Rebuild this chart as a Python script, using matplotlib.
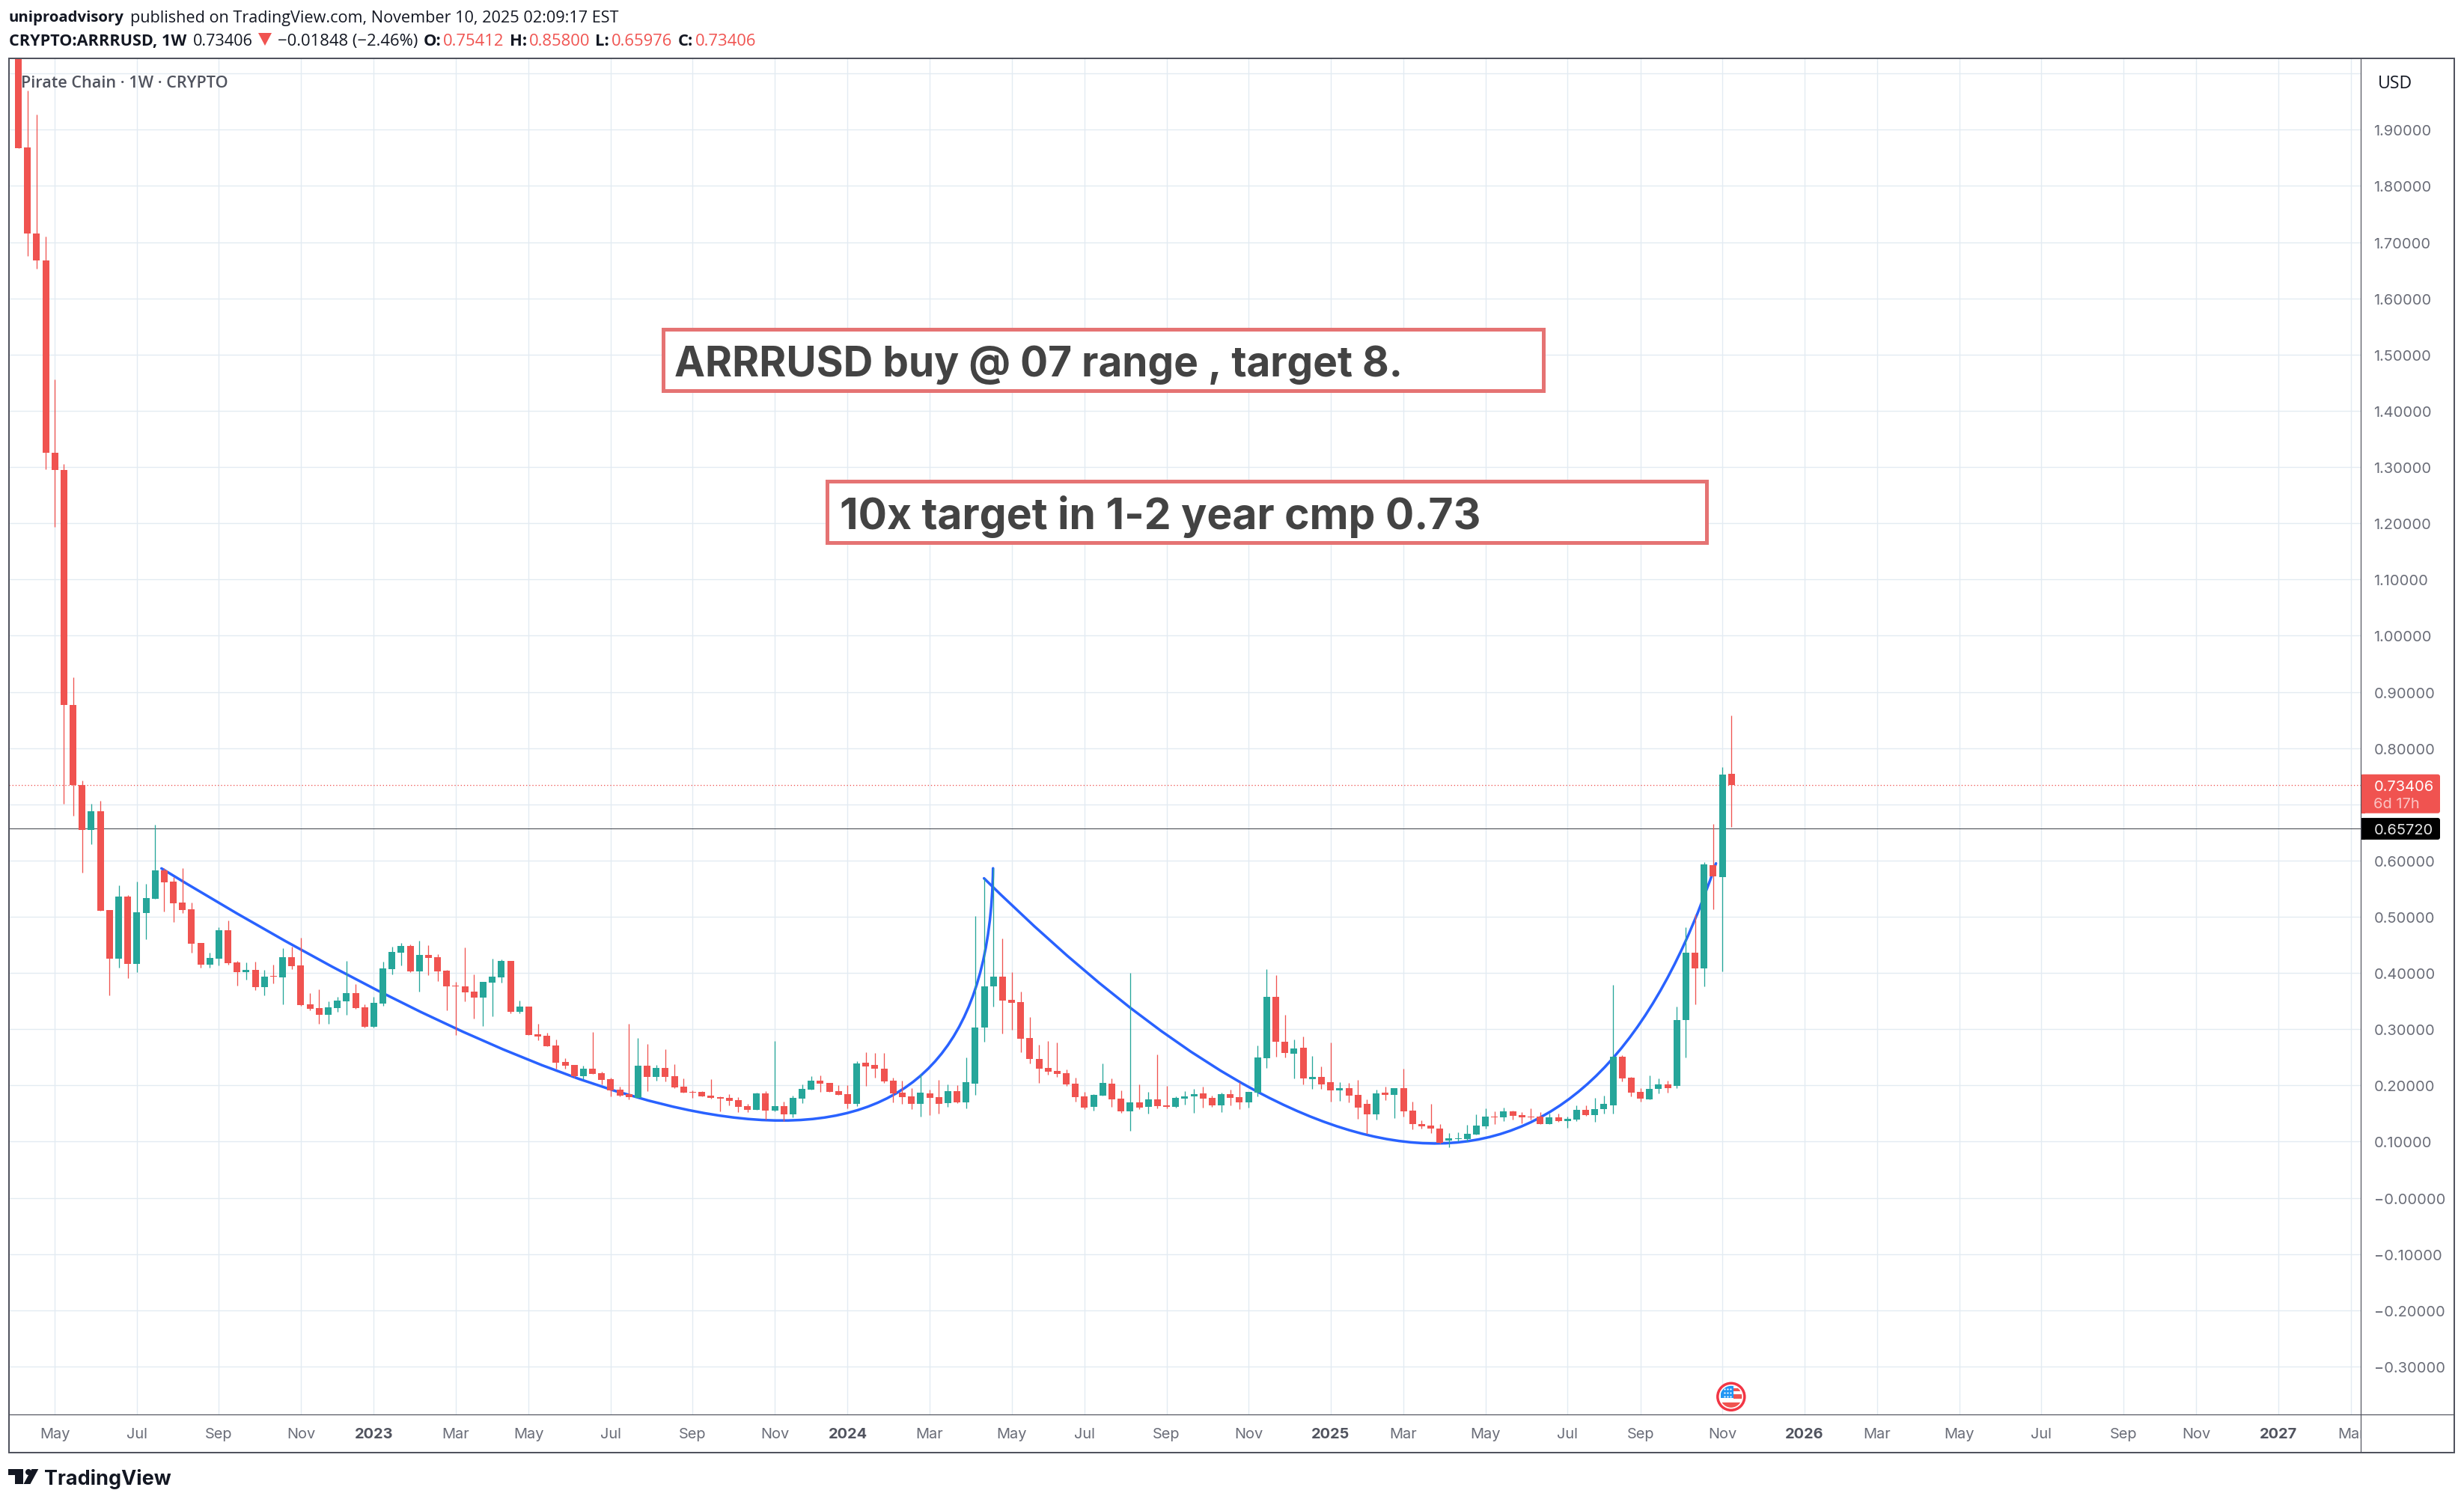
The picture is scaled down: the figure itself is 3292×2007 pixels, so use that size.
import matplotlib
matplotlib.use("Agg")
import matplotlib.pyplot as plt
from matplotlib.patches import Rectangle, Circle, Polygon, FancyBboxPatch, PathPatch
from matplotlib.path import Path

plt.rcParams["font.family"] = ["Inter", "DejaVu Sans"]

# week index 0 is the candle of May 2 2022
first_week = -4
opens = [2.2, 1.868, 1.715, 1.667, 1.326, 1.295, .877, .734, .655, .688,
         .5124, .4249, .5364, .4164, .5071, .5324, .5831, .5631, .5258, .5138,
         .4538, .4151, .4258, .4764, .4191, .4018, .4058, .3751, .3942, .3924,
         .4284, .4138, .3444, .3378, .3258, .3378, .3498, .3644, .3391, .3044,
         .3458, .4071, .4364, .4484, .4031, .4324, .4284, .4044, .3778, .3764,
         .3671, .3564, .3831, .3924, .4218, .3311, .3404, .2911, .2884, .2711,
         .2418, .2364, .2164, .2298, .2218, .2111, .1924, .1844, .1778, .2351,
         .2151, .2311, .2164, .1978, .1884, .1884, .1818, .1791, .1778, .1738,
         .1631, .1564, .1858, .1551, .1631, .1484, .1764, .1924, .2084, .2044,
         .1898, .1844, .1671, .2404, .2364, .2298, .2084, .1871, .1804, .1671,
         .1858, .1791, .1684, .1898, .1698, .2031, .3031, .3764, .3938, .3524,
         .3484, .2844, .2471, .2311, .2258, .2218, .2031, .1804, .1618, .1818,
         .2031, .1764, .1538, .1698, .1618, .1751, .1644, .1618, .1764, .1804,
         .1858, .1778, .1644, .1844, .1791, .1698, .1871, .2484, .3578, .2778,
         .2564, .2671, .2111, .2151, .2058, .1911, .1951, .1831, .1671, .1484,
         .1871, .1831, .1951, .1551, .1311, .1284, .1231, .1018, .1044, .1044,
         .1124, .1271, .1444, .1431, .1538, .1471, .1444, .1444, .1311, .1431,
         .1364, .1391, .1564, .1471, .1578, .1644, .2511, .2138, .1884, .1751,
         .1938, .2018, .1991, .3158, .4355, .4079, .5916, .57, .75412]
highs = [2.25, 1.97, 1.927, 1.71, 1.456, 1.306, .9256, .742, .7015, .707,
         .5124, .5564, .539, .5631, .5591, .664, .586, .5707, .5871, .5258,
         .4538, .4364, .4818, .4938, .4218, .4191, .4204, .4058, .4151, .4444,
         .4471, .4631, .3644, .3711, .3498, .3578, .4218, .3804, .3444, .3578,
         .4204, .4471, .4538, .4511, .4578, .4498, .4338, .4058, .3844, .4458,
         .3978, .3844, .4258, .4244, .4218, .3511, .3404, .3098, .2938, .2818,
         .2484, .2364, .2351, .2951, .2244, .2138, .1978, .3098, .2844, .2738,
         .2364, .2644, .2378, .2124, .1911, .1898, .2111, .1804, .1844, .1791,
         .1671, .1871, .1898, .2791, .1711, .1818, .2018, .2164, .2178, .2044,
         .2004, .2004, .2431, .2591, .2578, .2578, .2138, .2084, .1951, .2204,
         .1924, .2098, .2018, .2004, .2498, .5018, .5684, .5871, .4618, .4018,
         .3671, .3218, .2724, .2791, .2764, .2284, .2138, .1884, .1844, .2391,
         .2124, .1911, .4004, .2018, .1884, .2551, .1991, .1804, .1898, .1938,
         .1978, .1818, .1871, .1924, .2058, .1884, .2711, .4071, .3964, .3258,
         .2818, .2871, .2524, .2338, .2764, .2058, .2044, .2098, .1751, .1924,
         .1978, .1951, .2298, .1711, .1378, .1671, .1311, .1151, .1164, .1298,
         .1484, .1591, .1538, .1604, .1551, .1524, .1591, .1524, .1498, .1498,
         .1444, .1644, .1644, .1778, .1818, .3795, .2538, .2151, .1951, .2178,
         .2124, .2084, .3409, .4808, .5034, .5966, .6645, .766, .858]
lows = [1.867, 1.675, 1.653, 1.296, 1.193, .7005, .68, .579, .6285, .511,
        .3596, .4089, .3911, .4018, .4596, .5324, .5098, .4911, .5071, .4364,
        .4098, .4098, .4138, .4151, .3778, .3884, .3698, .3604, .3818, .3444,
        .4071, .3418, .3338, .3098, .3098, .3311, .3258, .3364, .3031, .3031,
        .3418, .3978, .4138, .4018, .3671, .3964, .3858, .3338, .2898, .3498,
        .3191, .3058, .3231, .3831, .3284, .3284, .2898, .2804, .2698, .2298,
        .2298, .2138, .2107, .2204, .2018, .1804, .1804, .1751, .1778, .1898,
        .2084, .2071, .1951, .1871, .1778, .1804, .1764, .1538, .1644, .1524,
        .1524, .1564, .1391, .1538, .1364, .1431, .1684, .1924, .1884, .1884,
        .1831, .1591, .1631, .1991, .2138, .2044, .1698, .1671, .1578, .1444,
        .1471, .1498, .1618, .1684, .1591, .1831, .2778, .3404, .2924, .2991,
        .2591, .2391, .2044, .2191, .2151, .1991, .1711, .1578, .1551, .1818,
        .1618, .1511, .1191, .1578, .1498, .1591, .1591, .1604, .1658, .1511,
        .1604, .1618, .1524, .1644, .1578, .1604, .1804, .2311, .2511, .2498,
        .2124, .2018, .1938, .1938, .1711, .1724, .1698, .1404, .1138, .1391,
        .1738, .1418, .1444, .1218, .1231, .1151, .096, .0898, .1004, .1004,
        .1124, .1231, .1311, .1364, .1391, .1324, .1391, .1311, .1311, .1351,
        .1244, .1364, .1458, .1351, .1498, .1498, .2071, .1804, .1711, .1751,
        .1858, .1871, .1946, .2493, .3438, .3768, .5128, .4025, .65976]
closes = [1.867, 1.715, 1.667, 1.326, 1.295, .877, .734, .6547, .688, .511,
          .4249, .5364, .4164, .5084, .5338, .5831, .5618, .5244, .5124, .4524,
          .4151, .4271, .4764, .4178, .4018, .4058, .3751, .3938, .3929, .4284,
          .4124, .3431, .3364, .3258, .3391, .3511, .3644, .3378, .3044, .3471,
          .4084, .4378, .4484, .4031, .4324, .4271, .4031, .3764, .3764, .3658,
          .3564, .3844, .3938, .4218, .3311, .3404, .2898, .2871, .2698, .2404,
          .2351, .2164, .2298, .2204, .2098, .1911, .1818, .1791, .2351, .2151,
          .2311, .2151, .1964, .1871, .1871, .1804, .1778, .1764, .1724, .1618,
          .1564, .1858, .1551, .1631, .1484, .1778, .1938, .2084, .2031, .1884,
          .1831, .1671, .2391, .2338, .2298, .2071, .1858, .1791, .1671, .1871,
          .1778, .1671, .1898, .1698, .2058, .3031, .3764, .3938, .3511, .3471,
          .2831, .2471, .2298, .2244, .2204, .2018, .1791, .1604, .1831, .2044,
          .1751, .1538, .1698, .1604, .1751, .1631, .1618, .1778, .1804, .1844,
          .1764, .1644, .1844, .1778, .1698, .1884, .2498, .3578, .2778, .2578,
          .2658, .2124, .2151, .2018, .1911, .1951, .1818, .1604, .1484, .1858,
          .1831, .1951, .1538, .1311, .1271, .1231, .0978, .1058, .1058, .1138,
          .1284, .1444, .1431, .1538, .1458, .1431, .1431, .1311, .1431, .1364,
          .1404, .1564, .1471, .1578, .1671, .2507, .2124, .1871, .1764, .1938,
          .2018, .1951, .3158, .4355, .4079, .5926, .5714, .7525, .73406]

# the two drawn curves, anchor / control / anchor as (week, price)
curve1 = [(11.7, .586), (102.2, -.311), (102.96, .5862)]
curve2 = [(101.97, .5684), (161.9, -.388), (182.3, .595)]

# axis content
y_grid = [-.3, -.2, -.1, 0, .1, .2, .3, .4, .5, .6, .7, .8, .9, 1.0, 1.1, 1.2, 1.3, 1.4, 1.5, 1.6, 1.7, 1.8, 1.9, 2.0]
y_labels = ["\u22120.30000", "\u22120.20000", "\u22120.10000", "\u22120.00000", "0.10000", "0.20000", "0.30000",
            "0.40000", "0.50000", "0.60000", "", "0.80000", "0.90000", "1.00000", "1.10000", "1.20000", "1.30000",
            "1.40000", "1.50000", "1.60000", "1.70000", "1.80000", "1.90000", ""]
x_grid = [0, 9, 18, 27, 35, 44, 52, 61, 70, 79, 87, 96, 105, 113, 122, 131, 140, 148, 157, 166, 174, 183, 192, 200,
          209, 218, 227, 235, 244, 252]
x_labels = ["May", "Jul", "Sep", "Nov", "2023", "Mar", "May", "Jul", "Sep", "Nov", "2024", "Mar", "May", "Jul", "Sep",
            "Nov", "2025", "Mar", "May", "Jul", "Sep", "Nov", "2026", "Mar", "May", "Jul", "Sep", "Nov", "2027", "Mar"]
last_price = 0.73406
line_price = 0.6572

RED = "#f05350"
GREEN = "#26a69a"
BLUE = "#2962ff"
GRID = "#e3ebf2"
FRAME = "#50535e"
W, H = 3292, 2008
DPI = 100
PX = 72.0 / DPI

# pane edges in pixels and the pixel scale of the price and time axes
LEFT, RIGHT, TOP, BOTTOM = 12, 3154, 79, 1891
X0, X_STEP = 73.3, 12.174
Y0, Y_STEP = 1601.6, 751.2

fig = plt.figure(figsize=(W / DPI, H / DPI), dpi=DPI, facecolor="white")
ax = fig.add_axes([LEFT / W, 1 - BOTTOM / H, (RIGHT - LEFT) / W, (BOTTOM - TOP) / H])
ax.set_xlim((LEFT - X0) / X_STEP, (RIGHT - X0) / X_STEP)
ax.set_ylim((Y0 - BOTTOM) / Y_STEP, (Y0 - TOP) / Y_STEP)
for s in ax.spines.values():
    s.set_visible(False)

ax.set_yticks(y_grid)
ax.set_yticklabels(y_labels)
ax.set_xticks(x_grid)
ax.set_xticklabels(x_labels)
ax.yaxis.tick_right()
ax.tick_params(axis="y", length=0, pad=17.5 * PX, labelsize=20 * PX, labelcolor="#6a6d78")
ax.tick_params(axis="x", length=0, pad=25.7 * PX, labelsize=20 * PX, labelcolor="#6a6d78")
for lab in ax.get_xticklabels():
    lab.set_verticalalignment("center")
    if lab.get_text().startswith("20"):
        lab.set_fontweight("bold")
        lab.set_color(FRAME)
ax.grid(True, color=GRID, lw=1.4 * PX, zorder=0)
ax.set_axisbelow(True)

ax.axhline(last_price, color=RED, lw=1.3 * PX, linestyle=(0, (1, 2.2)), zorder=1)
ax.axhline(line_price, color="#3f4249", lw=1.0 * PX, zorder=1)

for curve in (curve1, curve2):
    path = Path(curve, [Path.MOVETO, Path.CURVE3, Path.CURVE3])
    ax.add_patch(PathPatch(path, fc="none", ec=BLUE, lw=3.5 * PX, zorder=2, capstyle="round"))

# candles
weeks = [first_week + i for i in range(len(opens))]
colors = [GREEN if c >= o else RED for o, c in zip(opens, closes)]
ax.vlines(weeks, lows, highs, colors=colors, lw=1.3 * PX, zorder=3)
ax.bar(weeks, [abs(c - o) for o, c in zip(opens, closes)], bottom=[min(o, c) for o, c in zip(opens, closes)],
       width=9 / X_STEP, color=colors, lw=0, zorder=4)

# overlay in pixel coordinates for everything around the chart
ov = fig.add_axes([0, 0, 1, 1], facecolor="none")
ov.set_xlim(0, W)
ov.set_ylim(H, 0)
ov.axis("off")


def hline(x0, x1, y, lw, color=FRAME):
    ov.plot([x0, x1], [y, y], color=color, lw=lw * PX, solid_capstyle="butt")


def vline(x, y0, y1, lw, color=FRAME):
    ov.plot([x, x], [y0, y1], color=color, lw=lw * PX, solid_capstyle="butt")


def run(x, y, pieces, family, px):
    # draws text pieces one after the other, measured with the renderer
    rend = fig.canvas.get_renderer()
    for s, color, weight, gap in pieces:
        t = ov.text(x, y, s, color=color, fontweight=weight, family=family, fontsize=px * PX, va="center_baseline")
        x = ov.transData.inverted().transform(t.get_window_extent(rend).get_points())[1][0] + gap


# cover the last clipped tick label behind the price axis
ov.add_patch(Rectangle((RIGHT + 1, BOTTOM + 1), 124, 49, color="white", lw=0, zorder=1))

hline(LEFT - 1, 3280, TOP, 2)
hline(LEFT - 1, 3280, 1941.5, 2)
vline(LEFT, TOP, 1942, 2)
vline(3279.4, TOP, 1942, 2)
hline(LEFT, 3279, BOTTOM, 1.2)
vline(RIGHT, TOP, 1942, 1.2)

# header lines
hfont = ["Open Sans", "DejaVu Sans"]
ink = "#131722"
run(12, 22, [("uniproadvisory", ink, "bold", 0)], hfont, 20.4)
run(174, 22, [("published on TradingView.com, November 10, 2025 02:09:17 EST", ink, "normal", 0)], hfont, 21.6)
run(12, 53, [("CRYPTO:ARRRUSD, 1W", ink, "bold", 9), ("0.73406", ink, "normal", 5)], hfont, 21.6)
ov.add_patch(Polygon([[345, 45], [363, 45], [354, 62]], color=RED, lw=0))
run(371, 53, [("\u22120.01848 (\u22122.46%)", ink, "normal", 7), ("O:", ink, "bold", 3), ("0.75412", RED, "normal", 7),
              ("H:", ink, "bold", 3), ("0.85800", RED, "normal", 7), ("L:", ink, "bold", 3),
              ("0.65976", RED, "normal", 7), ("C:", ink, "bold", 3), ("0.73406", RED, "normal", 0)], hfont, 22)

ov.text(28, 109, "Pirate Chain \u00b7 1W \u00b7 CRYPTO", color=FRAME, family=hfont, fontweight="semibold",
        fontsize=21.6 * PX, va="center_baseline")
ov.text(3177, 109, "USD", color=ink, family=hfont, fontsize=23 * PX, va="center_baseline")

# note boxes
note_color = "#e57373"
ov.add_patch(Rectangle((886.5, 440.5), 1175.5, 82, fc="white", ec=note_color, lw=5 * PX))
ov.text(901, 482, "ARRRUSD buy @ 07 range , target 8.", color="#434343", fontweight="bold", fontsize=55 * PX,
        va="center_baseline")
ov.add_patch(Rectangle((1105.5, 643.5), 1175, 82, fc="white", ec=note_color, lw=5 * PX))
ov.text(1122, 685, "10x target in 1-2 year cmp 0.73", color="#434343", fontweight="bold", fontsize=57 * PX,
        va="center_baseline")

# price tags on the axis
py_last = Y0 - Y_STEP * last_price
py_line = Y0 - Y_STEP * line_price
ov.add_patch(FancyBboxPatch((RIGHT, py_last - 14.5), 106, 52, boxstyle="round,pad=0,rounding_size=3", fc=RED, lw=0))
ov.add_patch(Rectangle((RIGHT, py_last - 14.5), 6, 52, fc=RED, lw=0))
ov.text(3171.5, py_last, "%.5f" % last_price, color="white", fontsize=20 * PX, va="center_baseline")
ov.text(3171.5, py_last + 23, "6d 17h", color="#fbc4c3", fontsize=20 * PX, va="center_baseline")
ov.add_patch(FancyBboxPatch((RIGHT, py_line - 14), 106, 29, boxstyle="round,pad=0,rounding_size=3", fc="black", lw=0))
ov.add_patch(Rectangle((RIGHT, py_line - 14), 6, 29, fc="black", lw=0))
ov.text(3171.5, py_line, "%.5f" % line_price, color="#e8e8e8", fontsize=20 * PX, va="center_baseline")

# US flag event marker
fx, fy = 2312.8, 1867.3
ov.add_patch(Circle((fx, fy), 18, fc="white", ec="#f23645", lw=3.5 * PX))
clip = Circle((fx, fy), 14.5, transform=ov.transData)
parts = [Rectangle((fx - 14, fy - 15), 17, 17, fc="#2196f3", lw=0),
         Rectangle((fx + 3, fy - 11), 12, 4, fc=RED, lw=0),
         Rectangle((fx + 3, fy - 3), 12, 6, fc=RED, lw=0),
         Rectangle((fx - 15, fy + 8), 30, 8, fc=RED, lw=0)]
for p in parts:
    ov.add_patch(p)
    p.set_clip_path(clip)
for dy in (-10, -5, 0):
    ov.plot([fx - 9, fx - 5, fx - 1], [fy + dy] * 3, ls="none", marker="o", ms=1.6, mfc="white", mew=0)

# TradingView logo
logo = "#131722"
ov.add_patch(Polygon([[10.7, 1964], [31, 1964], [31, 1984], [20, 1984], [20, 1972], [10.7, 1972]], color=logo, lw=0))
ov.add_patch(Circle((38, 1968), 4, color=logo, lw=0))
ov.add_patch(Polygon([[42.4, 1964], [51.3, 1964], [40.5, 1984], [31.5, 1984]], color=logo, lw=0))
ov.text(59, 1974, "TradingView", color=logo, fontweight="bold", fontsize=27 * PX, va="center_baseline")

fig.savefig("out.png", dpi=DPI)
